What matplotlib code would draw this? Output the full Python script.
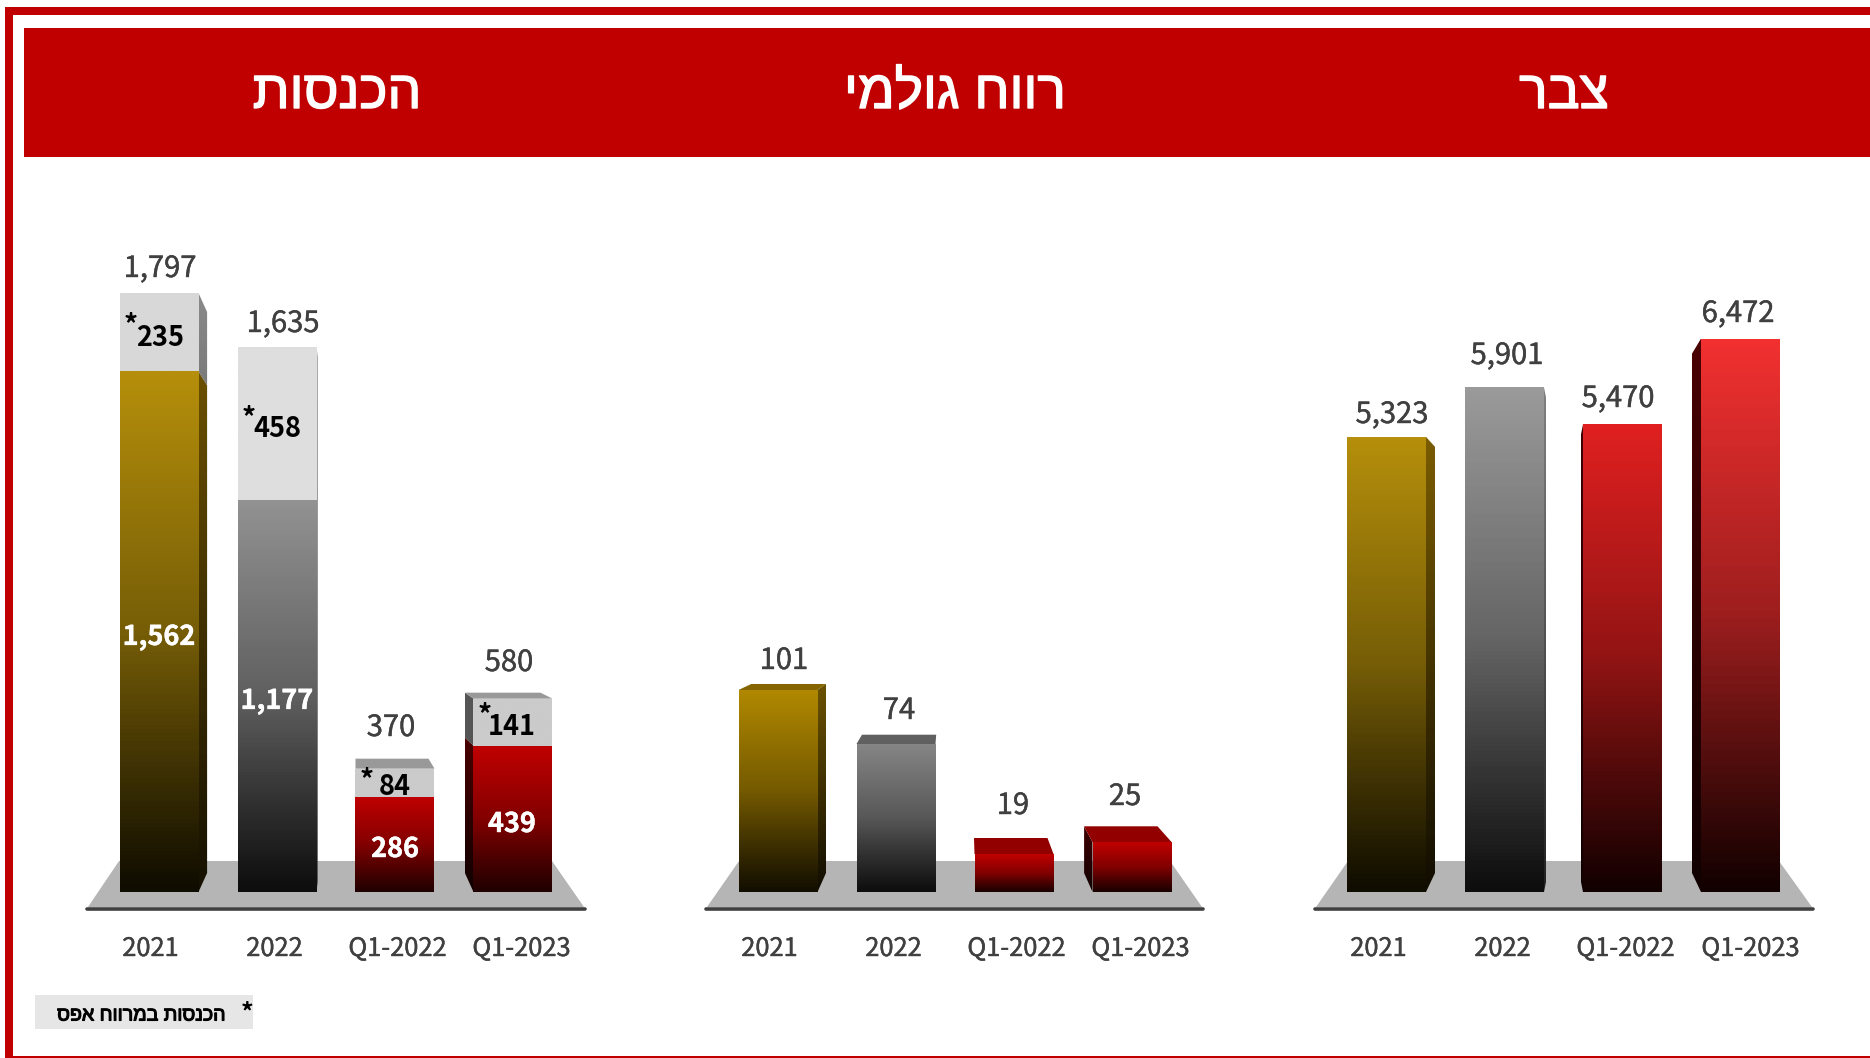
import numpy as np
import matplotlib
matplotlib.use('Agg')
import matplotlib.pyplot as plt
import matplotlib.patheffects as pe
from matplotlib.colors import LinearSegmentedColormap
from matplotlib.patches import Polygon, Rectangle

plt.rcParams['font.family'] = ['Noto Sans CJK JP', 'DejaVu Sans']

W, H = 1870, 1058
BASE_Y = 892
STEP = 118
BAR_W = 79 / STEP

categories = ['2021', '2022', 'Q1-2022', 'Q1-2023']

# revenue panel
rev_bottom = [1562, 1177, 286, 439]
rev_top = [235, 458, 84, 141]
rev_total = [1797, 1635, 370, 580]
# gross profit panel
gross = [101, 74, 19, 25]
# backlog panel
backlog = [5323, 5901, 5470, 6472]

title_rev = 'הכנסות'
title_gross = 'רווח גולמי'
title_backlog = 'צבר'
note = 'הכנסות במרווח אפס'

GOLD = '#b58f0b'
GREY = '#979797'
RED = '#c00000'


def visual(s):
    # matplotlib has no bidi, so hebrew goes in reversed
    return s[::-1]


def heavier(w, c):
    return [pe.withStroke(linewidth=w, foreground=c)]


def grad_bar(ax, x, y0, y1, top, bottom):
    cmap = LinearSegmentedColormap.from_list('g', [bottom, top])
    bar = ax.bar(x, y1 - y0, bottom=y0, width=BAR_W, color='none', linewidth=0)[0]
    # the slide gradient stays bright longer than a straight ramp
    ramp = np.interp(np.linspace(1, 0, 128), [0, 0.25, 0.5, 1], [0, 0.3, 0.62, 1])
    im = ax.imshow(ramp.reshape(-1, 1), cmap=cmap, aspect='auto', vmin=0, vmax=1,
                   extent=(x - BAR_W / 2, x + BAR_W / 2, y0, y1), zorder=2)
    im.set_clip_path(bar)
    ax.set_xlim(-0.5, 3.5)
    ax.set_ylim(0, 722 / ax.scale)


def side(ax, x, y0, y1, dx, dt, db, top, bottom):
    # side face of a bar, dx in pixels, dt/db pixels the back edge is lower/higher
    edge = x + BAR_W / 2 if dx > 0 else x - BAR_W / 2
    d = dx / STEP
    back_top = y1 - dt / ax.scale
    back_bot = y0 + db / ax.scale
    pts = [(edge, y1), (edge + d, back_top), (edge + d, back_bot), (edge, y0)]
    poly = Polygon(pts, closed=True, facecolor='none', edgecolor='none')
    ax.add_patch(poly)
    cmap = LinearSegmentedColormap.from_list('g', [bottom, top])
    im = ax.imshow(np.linspace(1, 0, 64).reshape(-1, 1), cmap=cmap, aspect='auto',
                   extent=(min(edge, edge + d), max(edge, edge + d),
                           min(y0, back_bot), max(y1, back_top)), zorder=1.5)
    im.set_clip_path(poly)
    ax.set_xlim(-0.5, 3.5)
    ax.set_ylim(0, 722 / ax.scale)


def top_face(ax, x, y, left, right, rise, color):
    # left/right: pixel shift of the back edge
    a, b = x - BAR_W / 2, x + BAR_W / 2
    pts = [(a, y), (a + left / STEP, y + rise / ax.scale),
           (b + right / STEP, y + rise / ax.scale), (b, y)]
    ax.add_patch(Polygon(pts, closed=True, facecolor=color, edgecolor='none', zorder=1.8))


def panel(first_center, scale):
    left = first_center - STEP / 2
    ax = fig.add_axes([left / W, 1 - BASE_Y / H, 4 * STEP / W, 722 / H])
    ax.scale = scale
    ax.set_xlim(-0.5, 3.5)
    ax.set_ylim(0, 722 / scale)
    ax.axis('off')
    ax.patch.set_alpha(0)
    return ax


fig = plt.figure(figsize=(W / 100, H / 100), dpi=100, facecolor='white')

bg = fig.add_axes([0, 0, 1, 1])
bg.set_xlim(0, W)
bg.set_ylim(H, 0)
bg.axis('off')

# frame and header
bg.add_patch(Rectangle((5, 7), W - 5, 8, color=RED, lw=0))
bg.add_patch(Rectangle((5, 7), 8, H - 7, color=RED, lw=0))
bg.add_patch(Rectangle((5, 1055.5), W - 5, 2, color=RED, lw=0))
bg.add_patch(Rectangle((24, 28), W - 24, 129, color=RED, lw=0))

for t, cx in [(title_rev, 337), (title_gross, 955), (title_backlog, 1564)]:
    bg.text(cx, 94, visual(t), color='white', fontsize=38.5, ha='center', va='center',
            family=['Liberation Sans', 'DejaVu Sans'], path_effects=heavier(1.0, 'white'))

# floors, baseline and category labels
for fx0, fx1, tx0, tx1, labs in [
    (88, 584, 119, 552, [150, 274, 397, 521]),
    (707, 1202, 739, 1170, [769, 893, 1016, 1140]),
    (1316, 1812, 1348, 1779, [1378, 1502, 1625, 1750]),
]:
    bg.add_patch(Polygon([(fx0, 907), (tx0, 861), (tx1, 861), (fx1, 907)], closed=True,
                         facecolor='#b5b5b5', edgecolor='none'))
    bg.plot([fx0 - 1, fx1 + 1], [908.5, 908.5], color='#404040', lw=2.6, solid_capstyle='round')
    for c, lx in zip(categories, labs):
        bg.text(lx + 0.5, 949, c, color='#404040', fontsize=18.3, ha='center', va='center',
                path_effects=heavier(0.3, '#404040'))

# revenue
ax1 = panel(159, 1 / 3.0)
x = np.arange(4)
low_tops = [GOLD, '#929292', RED, RED]
low_bots = ['#0f0c00', '#0d0d0d', '#200000', '#200000']
up_cols = ['#d8d8d8', '#dedede', '#cbcbcb', '#cbcbcb']
for i in x:
    grad_bar(ax1, i, 0, rev_bottom[i], low_tops[i], low_bots[i])
    grad_bar(ax1, i, rev_bottom[i], rev_total[i], up_cols[i], up_cols[i])
side(ax1, 0, 0, rev_bottom[0], 8.6, 14, 19, '#6b5000', '#151000')
side(ax1, 0, rev_bottom[0], rev_total[0], 8.6, 19, -14, '#8a8a8a', '#7a7a7a')
side(ax1, 1, 0, rev_total[1], 1.2, 10, 10, '#8a8a8a', '#333333')
side(ax1, 3, 0, rev_bottom[3], -8.6, -8, 19, '#4a0000', '#100000')
side(ax1, 3, rev_bottom[3], rev_total[3], -8.6, -6, 8, '#555555', '#555555')
top_face(ax1, 2, rev_total[2], 0, -6, 10, '#999999')
top_face(ax1, 3, rev_total[3], -8.6, -12, 6, '#999999')

# gross profit
ax2 = panel(778, 2.0)
g_tops = ['#b08800', '#858585', RED, RED]
g_bots = ['#120e00', '#0d0d0d', '#1a0000', '#1a0000']
for i in x:
    grad_bar(ax2, i, 0, gross[i], g_tops[i], g_bots[i])
side(ax2, 0, 0, gross[0], 8.5, -6, 19, '#6b5200', '#100c00')
side(ax2, 3, 0, gross[3], -8.4, -15.7, 19, '#400000', '#100000')
top_face(ax2, 0, gross[0], 12.7, 8.5, 6, '#846500')
top_face(ax2, 1, gross[1], 5.5, 0.7, 9.3, '#606060')
top_face(ax2, 2, gross[2], -0.5, -6, 16, '#930000')
top_face(ax2, 3, gross[3], -8.4, -14, 15.7, '#930000')

# backlog
ax3 = panel(1386.5, 0.0855)
b_tops = [GOLD, '#9a9a9a', '#e02020', '#f23030']
b_bots = ['#0f0c00', '#0d0d0d', '#120000', '#120000']
for i in x:
    grad_bar(ax3, i, 0, backlog[i], b_tops[i], b_bots[i])
side(ax3, 0, 0, backlog[0], 9, 10, 19, '#7a5c00', '#100c00')
side(ax3, 1, 0, backlog[1], 2, 10, 10, '#808080', '#222222')
side(ax3, 2, 0, backlog[2], -2, 10, 10, '#400000', '#100000')
side(ax3, 3, 0, backlog[3], -9, 15, 19, '#4a0000', '#100000')

# value labels, pixel placed like the slide text boxes
for v, (lx, ly) in zip(rev_total, [(160, 269), (283, 324), (391, 728), (509, 663)]):
    bg.text(lx, ly, f'{v:,}', color='#404040', fontsize=21, ha='center', va='center',
            path_effects=heavier(0.3, '#404040'))
for v, (lx, ly) in zip(gross, [(784, 661), (899, 711), (1013, 806), (1125, 797)]):
    bg.text(lx, ly, f'{v:,}', color='#404040', fontsize=21, ha='center', va='center',
            path_effects=heavier(0.3, '#404040'))
for v, (lx, ly) in zip(backlog, [(1392, 415), (1507, 356), (1618, 399), (1738, 314)]):
    bg.text(lx, ly, f'{v:,}', color='#404040', fontsize=21, ha='center', va='center',
            path_effects=heavier(0.3, '#404040'))

pairs = [(159, 637), (277, 701), (395, 849), (512, 824)]
for v, (lx, ly) in zip(rev_bottom, pairs):
    fig.text(lx / W, 1 - ly / H, f'{v:,}', color='white', fontsize=19.5, fontweight='bold',
             ha='center', va='center', zorder=10, path_effects=heavier(0.3, 'white'))
pairs = [(160, 338), (277, 429), (395, 787), (512, 727)]
stars = [(131, 325), (249, 418), (367, 780), (485, 715)]
for v, (lx, ly), (sx, sy) in zip(rev_top, pairs, stars):
    fig.text(lx / W, 1 - ly / H, f'{v:,}', color='black', fontsize=19.5, fontweight='bold',
             ha='center', va='center', zorder=10)
    fig.text(sx / W, 1 - sy / H, '*', color='black', fontsize=20, fontweight='bold',
             ha='center', va='center', zorder=10)

# footnote
bg.add_patch(Rectangle((35, 995), 218, 34, color='#e6e6e6', lw=0))
bg.text(226, 1015, visual(note), color='black', fontsize=14.1, ha='right', va='center',
        family=['Liberation Sans', 'DejaVu Sans'], path_effects=heavier(0.8, 'black'))
bg.text(247, 1012, '*', color='black', fontsize=18, fontweight='bold', ha='center', va='center')

fig.savefig('out.png', dpi=100)
